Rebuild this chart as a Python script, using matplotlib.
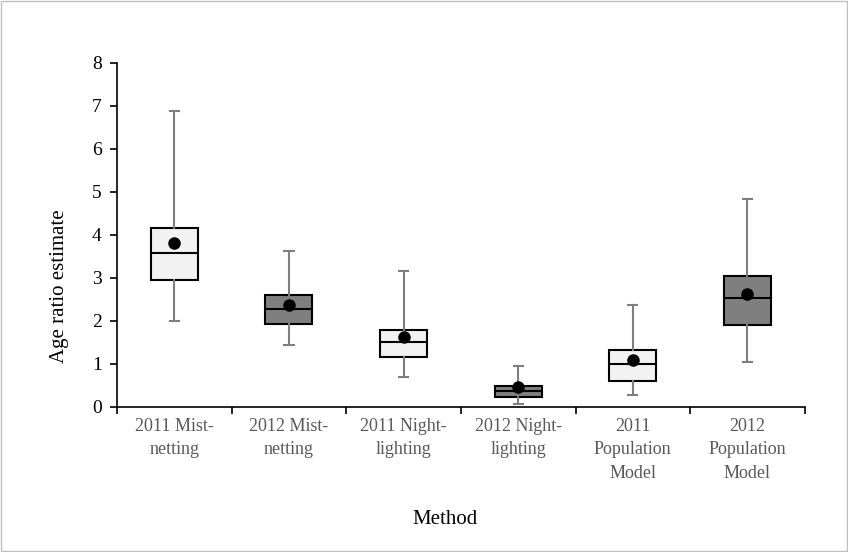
import matplotlib.pyplot as plt
from matplotlib.patches import Rectangle

plt.rcParams['font.family'] = ['Liberation Serif', 'DejaVu Serif']

labels = ["2011 Mist-\nnetting", "2012 Mist-\nnetting", "2011 Night-\nlighting",
          "2012 Night-\nlighting", "2011\nPopulation\nModel", "2012\nPopulation\nModel"]
whislo = [2.0, 1.44, 0.70, 0.07, 0.27, 1.05]
q1 = [2.94, 1.93, 1.15, 0.24, 0.61, 1.90]
med = [3.57, 2.27, 1.50, 0.37, 1.00, 2.52]
q3 = [4.16, 2.60, 1.79, 0.49, 1.33, 3.05]
whishi = [6.88, 3.63, 3.15, 0.96, 2.37, 4.83]
means = [3.82, 2.38, 1.63, 0.45, 1.08, 2.63]
colors = ['#f2f2f2', '#7f7f7f', '#f2f2f2', '#7f7f7f', '#f2f2f2', '#7f7f7f']

stats = []
for i in range(len(labels)):
    stats.append(dict(label=labels[i], whislo=whislo[i], q1=q1[i], med=med[i],
                      q3=q3[i], whishi=whishi[i], mean=means[i], fliers=[]))

fig = plt.figure(figsize=(8.48, 5.52), dpi=100)
ax = fig.add_axes([0.138, 0.263, 0.811, 0.623])

pos = list(range(1, len(labels) + 1))
bp = ax.bxp(stats, positions=pos, widths=0.41, patch_artist=True, showmeans=True,
            boxprops=dict(edgecolor='black', linewidth=1.5),
            medianprops=dict(color='black', linewidth=1.5),
            whiskerprops=dict(color='#7f7f7f', linewidth=1.5),
            capprops=dict(color='#7f7f7f', linewidth=1.5),
            meanprops=dict(marker='o', markerfacecolor='black', markeredgecolor='black',
                           markersize=8), capwidths=0.08)
for patch, c in zip(bp['boxes'], colors):
    patch.set_facecolor(c)

ax.set_xlim(0.5, 6.5)
ax.set_ylim(0, 8)
ax.set_yticks(range(0, 9))
ax.set_xticks([p - 0.5 for p in pos] + [6.5])
ax.set_xticklabels([])
ax.set_xticks(pos, minor=True)
ax.set_xticklabels(labels, minor=True, color='#595959', fontsize=13, linespacing=1.5)
ax.tick_params(axis='x', which='minor', length=0, pad=8)
ax.tick_params(axis='x', which='major', length=5, width=1.2, direction='out')
ax.tick_params(axis='y', length=5, width=1.2, direction='out', labelsize=14, pad=6)
for s in ['top', 'right']:
    ax.spines[s].set_visible(False)
for s in ['left', 'bottom']:
    ax.spines[s].set_linewidth(1.2)

ax.set_ylabel("Age ratio estimate", fontsize=15)
ax.yaxis.set_label_coords(-0.07, 0.35)
ax.set_xlabel("Method", fontsize=15)
ax.xaxis.set_label_coords(0.477, -0.30)

fig.patches.append(Rectangle((0.001, 0.001), 0.998, 0.998, transform=fig.transFigure,
                             fill=False, edgecolor='#bfbfbf', linewidth=1))

fig.savefig("out.png", dpi=100)
